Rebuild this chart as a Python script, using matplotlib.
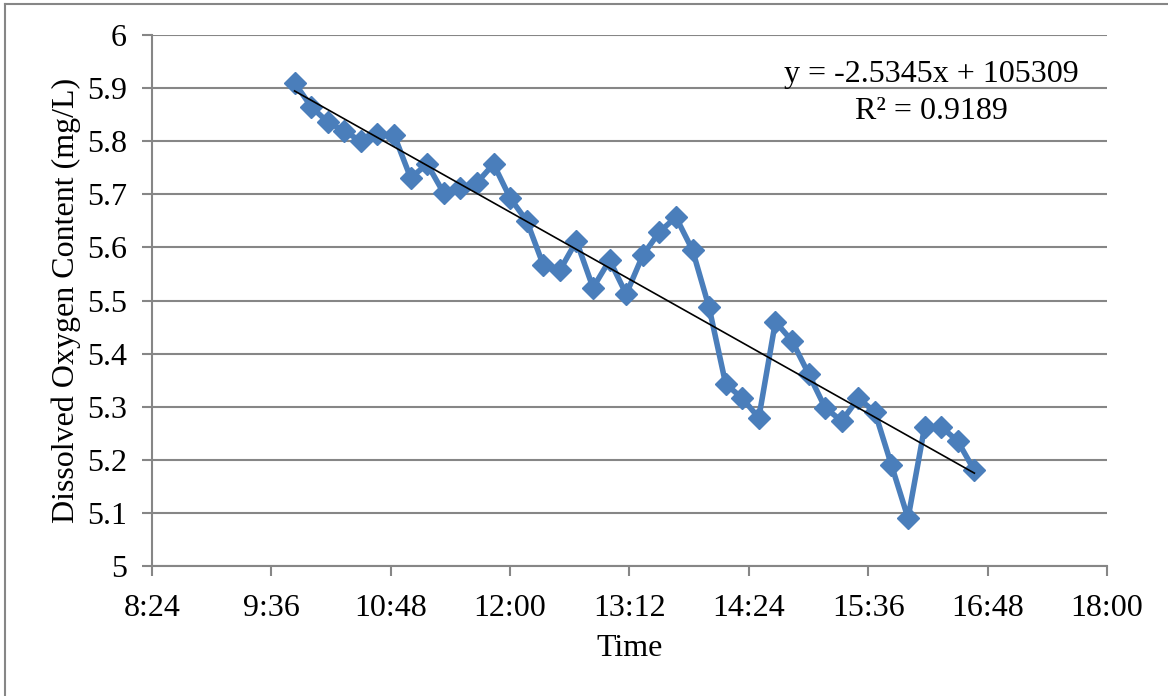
import numpy as np
import matplotlib
matplotlib.use("Agg")
import matplotlib.pyplot as plt
from matplotlib.ticker import FuncFormatter, MultipleLocator
from matplotlib.lines import Line2D

plt.rcParams["font.family"] = ["Liberation Serif", "DejaVu Serif"]

# sample times (10-minute interval) and dissolved oxygen readings
times = ["9:50", "10:00", "10:10", "10:20", "10:30", "10:40", "10:50", "11:00",
         "11:10", "11:20", "11:30", "11:40", "11:50", "12:00", "12:10", "12:20",
         "12:30", "12:40", "12:50", "13:00", "13:10", "13:20", "13:30", "13:40",
         "13:50", "14:00", "14:10", "14:20", "14:30", "14:40", "14:50", "15:00",
         "15:10", "15:20", "15:30", "15:40", "15:50", "16:00", "16:10", "16:20",
         "16:30", "16:40"]
oxygen = [5.910, 5.865, 5.836, 5.819, 5.800, 5.813, 5.812, 5.731,
          5.757, 5.702, 5.712, 5.722, 5.757, 5.693, 5.650, 5.567,
          5.557, 5.612, 5.524, 5.576, 5.512, 5.585, 5.629, 5.657,
          5.595, 5.487, 5.343, 5.316, 5.279, 5.460, 5.424, 5.362,
          5.298, 5.273, 5.316, 5.290, 5.190, 5.090, 5.262, 5.262,
          5.235, 5.180]

equation = "y = -2.5345x + 105309"
r_squared = "R\u00b2 = 0.9189"

minutes = np.array([int(t.split(":")[0]) * 60 + int(t.split(":")[1]) for t in times])
oxygen = np.array(oxygen)

fs = 23

fig = plt.figure(figsize=(11.68, 6.96), dpi=100)
ax = fig.add_axes([152 / 1168, 130 / 696, 955 / 1168, 531 / 696])

grid_col = "#868686"
blue = "#4A7EBB"

ax.plot(minutes, oxygen, color=blue, lw=4, marker="D", ms=11,
        markeredgecolor=blue, zorder=3)

# linear trend line across the data range
coef = np.polyfit(minutes, oxygen, 1)
ax.plot(minutes[[0, -1]], np.polyval(coef, minutes[[0, -1]]),
        color="black", lw=1.2, zorder=4)

ax.set_xlim(8 * 60 + 24, 18 * 60)
ax.set_ylim(5, 6)
ax.xaxis.set_major_locator(MultipleLocator(72))
ax.yaxis.set_major_locator(MultipleLocator(0.1))
ax.xaxis.set_major_formatter(FuncFormatter(lambda v, p: f"{int(v) // 60}:{int(v) % 60:02d}"))
ax.yaxis.set_major_formatter(FuncFormatter(lambda v, p: f"{v:g}"))

ax.grid(axis="y", color=grid_col, lw=1.5)
ax.set_axisbelow(True)
for s in ["top", "right"]:
    ax.spines[s].set_visible(False)
for s in ["left", "bottom"]:
    ax.spines[s].set_color(grid_col)
    ax.spines[s].set_linewidth(1.5)
ax.tick_params(axis="both", direction="out", length=7, width=1.5, color=grid_col,
               labelsize=fs)
ax.tick_params(axis="y", pad=11)
ax.tick_params(axis="x", pad=13)

ax.set_xlabel("Time", fontsize=fs, labelpad=8)
ax.set_ylabel("Dissolved Oxygen Content (mg/L)", fontsize=fs, labelpad=4)

ax.text(0.816, 0.925, equation, transform=ax.transAxes, fontsize=fs,
        ha="center", va="center")
ax.text(0.816, 0.855, r_squared, transform=ax.transAxes, fontsize=fs,
        ha="center", va="center")

# chart area border (only left and top edges are in frame)
fig.add_artist(Line2D([5 / 1168, 5 / 1168], [0, 1 - 4 / 696], transform=fig.transFigure,
                      color=grid_col, lw=1.5))
fig.add_artist(Line2D([5 / 1168, 1], [1 - 4 / 696, 1 - 4 / 696], transform=fig.transFigure,
                      color=grid_col, lw=1.5))

fig.savefig("out.png", dpi=100)
